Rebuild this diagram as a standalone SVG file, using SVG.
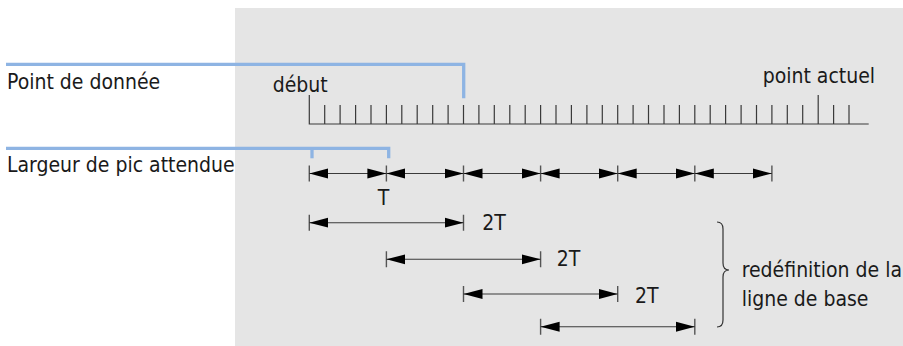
<svg xmlns="http://www.w3.org/2000/svg" width="903" height="346" viewBox="0 0 903 346">
  <style>
    .lbl { font-family: "DejaVu Sans Condensed", "DejaVu Sans", "Liberation Sans", sans-serif; font-stretch: condensed; font-size: 21px; fill: #1a1a1a; }
    .blue { fill: none; stroke: #8eb4e3; stroke-width: 3.3; stroke-linejoin: miter; }
    .tick { fill: none; stroke: #3a3a3a; stroke-width: 1.2; }
    .dim { fill: none; stroke: #3a3a3a; stroke-width: 1.1; marker-start: url(#tip); marker-end: url(#tip); }
    .bar { fill: none; stroke: #555; stroke-width: 1.4; }
    .brace { fill: none; stroke: #333; stroke-width: 1.2; }
  </style>
  <defs>
    <marker id="tip" markerUnits="userSpaceOnUse" markerWidth="20" markerHeight="12" viewBox="0 0 20 12" refX="19" refY="6" orient="auto-start-reverse">
      <path d="M0,1 L19,6 L0,11 Z" fill="#000"/>
    </marker>
  </defs>

  <!-- shaded plotting area -->
  <rect id="panel" x="235" y="8" width="668" height="338" fill="#e5e5e5"/>

  <!-- data point axis -->
  <g id="axis">
    <path class="tick" d="M309.3,95 V124 H868.7
      M324.7,105 V124 M340.1,105 V124 M355.6,105 V124 M371,105 V124 M386.4,105 V124
      M401.8,105 V124 M417.2,105 V124 M432.7,105 V124 M448.1,105 V124 M463.5,105 V124
      M478.9,105 V124 M494.3,105 V124 M509.8,105 V124 M525.2,105 V124 M540.6,105 V124
      M556,105 V124 M571.4,105 V124 M586.9,105 V124 M602.3,105 V124 M617.7,105 V124
      M633.1,105 V124 M648.5,105 V124 M664,105 V124 M679.4,105 V124 M694.8,105 V124
      M710.2,105 V124 M725.6,105 V124 M741.1,105 V124 M756.5,105 V124 M771.9,105 V124
      M787.3,105 V124 M802.7,105 V124 M818.2,95 V124 M833.6,105 V124 M849,105 V124"/>
    <text class="lbl" x="272.7" y="91.5">début</text>
    <text class="lbl" x="762.7" y="83">point actuel</text>
  </g>

  <!-- label leaders -->
  <g id="label-data-point">
    <polyline class="blue" points="6,64.3 463.7,64.3 463.7,98.3"/>
    <text class="lbl" x="7" y="88.5">Point de donnée</text>
  </g>
  <g id="label-peak-width">
    <polyline class="blue" points="6,148.3 388.7,148.3 388.7,158.3"/>
    <line class="blue" x1="312" y1="148.3" x2="312" y2="158.3"/>
    <text class="lbl" x="7" y="172">Largeur de pic attendue</text>
  </g>

  <!-- dimension arrows -->
  <g id="connectors">
    <!-- row of T intervals -->
    <path class="bar" d="M309.3,165.5 V181.5 M386.4,165.5 V181.5 M463.5,165.5 V181.5 M540.6,165.5 V181.5 M617.7,165.5 V181.5 M694.8,165.5 V181.5 M771.9,165.5 V181.5"/>
    <line class="dim" x1="309.3" y1="173.5" x2="386.4" y2="173.5"/>
    <line class="dim" x1="386.4" y1="173.5" x2="463.5" y2="173.5"/>
    <line class="dim" x1="463.5" y1="173.5" x2="540.6" y2="173.5"/>
    <line class="dim" x1="540.6" y1="173.5" x2="617.7" y2="173.5"/>
    <line class="dim" x1="617.7" y1="173.5" x2="694.8" y2="173.5"/>
    <line class="dim" x1="694.8" y1="173.5" x2="771.9" y2="173.5"/>

    <!-- 2T windows -->
    <path class="bar" d="M309.3,214.7 V230.7 M463.5,214.7 V230.7"/>
    <line class="dim" x1="309.3" y1="222.7" x2="463.5" y2="222.7"/>
    <path class="bar" d="M386.4,251.3 V267.3 M540.6,251.3 V267.3"/>
    <line class="dim" x1="386.4" y1="259.3" x2="540.6" y2="259.3"/>
    <path class="bar" d="M463.5,286 V302 M617.7,286 V302"/>
    <line class="dim" x1="463.5" y1="294" x2="617.7" y2="294"/>
    <path class="bar" d="M540.6,318.7 V334.7 M694.8,318.7 V334.7"/>
    <line class="dim" x1="540.6" y1="326.7" x2="694.8" y2="326.7"/>

    <path id="brace" class="brace" d="M717,222 Q723,222 723,229 L723,263 Q723,270 729,270 Q723,270 723,277 L723,320 Q723,327 717,327"/>
  </g>

  <g id="interval-labels">
    <text class="lbl" x="383.5" y="205" text-anchor="middle">T</text>
    <text class="lbl" x="482.3" y="229.5">2T</text>
    <text class="lbl" x="556.7" y="266">2T</text>
    <text class="lbl" x="635" y="302.7">2T</text>
  </g>

  <g id="baseline-note">
    <text class="lbl" x="741.7" y="276.7">redéfinition de la</text>
    <text class="lbl" x="741.7" y="306">ligne de base</text>
  </g>
</svg>
